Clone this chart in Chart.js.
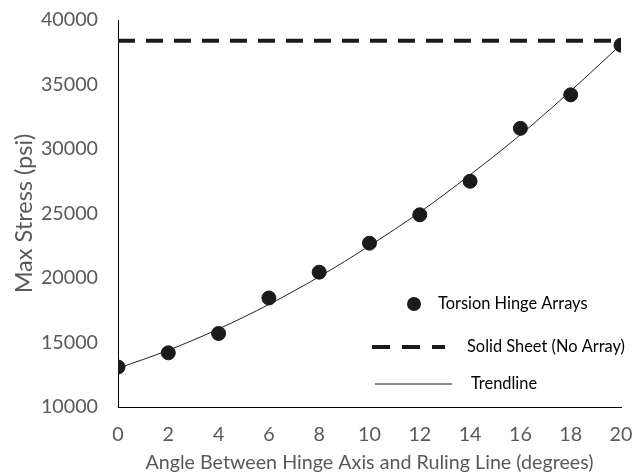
<!DOCTYPE html>
<html>
<head>
<meta charset="utf-8">
<script src="https://cdn.jsdelivr.net/npm/chart.js@4.4.1/dist/chart.umd.min.js"></script>
<style>
  html, body { margin:0; padding:0; background:#fff; }
  #wrap { width:639px; height:474px; position:relative; }
</style>
</head>
<body>
<div id="wrap"><canvas id="c" width="639" height="474"></canvas></div>
<script>
// ===== data =====
const angles = [0, 2, 4, 6, 8, 10, 12, 14, 16, 18, 20];
const hingeStress = [13100, 14200, 15700, 18450, 20450, 22700, 24900, 27500, 31600, 34200, 38050];
const trendStress = [13000, 14400, 16050, 17950, 20100, 22500, 25100, 28000, 31100, 34500, 38100];
const solidX = [0, 20];
const solidStress = [38400, 38400];
const xTicks = [0, 2, 4, 6, 8, 10, 12, 14, 16, 18, 20];
const yTicks = [10000, 15000, 20000, 25000, 30000, 35000, 40000];

const grey = '#595959';
const font = 'Lato, "Open Sans", sans-serif';

// legend drawn inside the plot, bottom right
const insideLegend = {
  id: 'insideLegend',
  afterDraw(chart) {
    const ctx = chart.ctx;
    ctx.save();
    ctx.font = '16.4px ' + font;
    ctx.textBaseline = 'middle';
    // marker
    ctx.beginPath();
    ctx.arc(414, 304, 7, 0, Math.PI * 2);
    ctx.fillStyle = '#1a1a1a';
    ctx.fill();
    ctx.fillStyle = '#000';
    ctx.fillText('Torsion Hinge Arrays', 438, 304);
    // dashed
    ctx.strokeStyle = '#1a1a1a';
    ctx.lineWidth = 4;
    ctx.setLineDash([18, 12]);
    ctx.beginPath();
    ctx.moveTo(372, 347); ctx.lineTo(445, 347);
    ctx.stroke();
    ctx.setLineDash([]);
    ctx.fillText('Solid Sheet (No Array)', 467, 347);
    // trend
    ctx.lineWidth = 1;
    ctx.beginPath();
    ctx.moveTo(375, 384); ctx.lineTo(452, 384);
    ctx.stroke();
    ctx.fillText('Trendline', 471, 384);
    ctx.restore();
  }
};

new Chart(document.getElementById('c'), {
  type: 'scatter',
  data: {
    datasets: [
      {
        label: 'Solid Sheet (No Array)',
        data: solidX.map((x, i) => ({ x, y: solidStress[i] })),
        showLine: true, borderColor: '#1a1a1a', borderWidth: 4,
        borderDash: [17, 11], pointRadius: 0, order: 3
      },
      {
        label: 'Trendline',
        data: angles.map((x, i) => ({ x, y: trendStress[i] })),
        showLine: true, borderColor: '#222', borderWidth: 1,
        cubicInterpolationMode: 'monotone', pointRadius: 0, order: 2
      },
      {
        label: 'Torsion Hinge Arrays',
        data: angles.map((x, i) => ({ x, y: hingeStress[i] })),
        backgroundColor: '#1a1a1a', borderColor: '#1a1a1a',
        pointRadius: 7, pointHoverRadius: 7, order: 1
      }
    ]
  },
  options: {
    responsive: false, animation: false,
    layout: { padding: { top: 20, right: 18, left: 0, bottom: 0 } },
    plugins: { legend: { display: false }, tooltip: { enabled: false } },
    scales: {
      x: {
        type: 'linear', min: 0, max: 20,
        afterBuildTicks: s => { s.ticks = xTicks.map(v => ({ value: v })); },
        afterFit: s => { s.height = 67; s.paddingLeft = 0; s.paddingRight = 0; },
        grid: { display: false, drawTicks: false },
        border: { color: '#000', width: 1 },
        ticks: { color: grey, font: { size: 19.7, family: font }, padding: 16, maxRotation: 0,
          callback: v => String(v) },
        title: { display: true, text: 'Angle Between Hinge Axis and Ruling Line (degrees)',
          color: grey, font: { size: 19.7, family: font }, padding: { top: 0, bottom: 0 } }
      },
      y: {
        min: 10000, max: 40000,
        afterBuildTicks: s => { s.ticks = yTicks.map(v => ({ value: v })); },
        afterFit: s => { s.width = 118; s.paddingTop = 0; s.paddingBottom = 0; },
        grid: { display: false, drawTicks: false },
        border: { color: '#000', width: 1 },
        ticks: { color: grey, font: { size: 19.7, family: font }, padding: 20,
          callback: v => String(v) },
        title: { display: true, text: 'Max Stress (psi)', color: grey,
          font: { size: 23.5, family: font }, padding: { top: 10, bottom: 0 } }
      }
    }
  },
  plugins: [insideLegend]
});
</script>
</body>
</html>
